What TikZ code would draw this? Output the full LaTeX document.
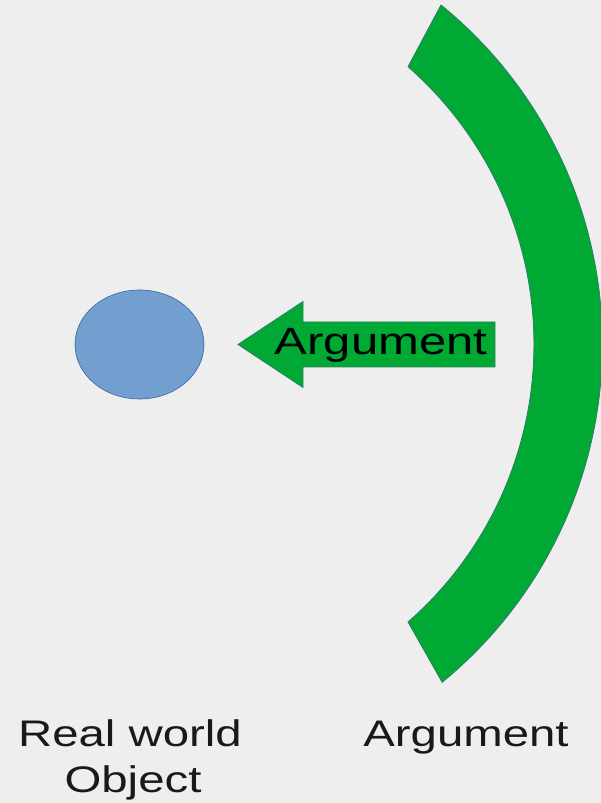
\documentclass[tikz,border=0pt]{standalone}
\usepackage{fontspec}
\setmainfont{Liberation Sans}
\usetikzlibrary{shapes.geometric}
\definecolor{bg}{HTML}{EEEEEE}
\definecolor{lblue}{HTML}{729FCF}
\definecolor{dblue}{HTML}{3465A4}
\definecolor{lgreen}{HTML}{00A933}
\definecolor{outl}{HTML}{2E7D6A}
\tikzset{
  shapeline/.style={draw=outl, line width=0.8pt, line join=miter},
  greenshape/.style={shapeline, fill=lgreen},
  lbl/.style={font=\fontsize{37}{46}\selectfont, text=black!90, inner sep=0pt, align=center, anchor=base},
}
\begin{document}
\begin{tikzpicture}[x=1pt,y=1pt]
\fill[bg] (0,0) rectangle (601,803);
\useasboundingbox (0,0) rectangle (601,803);
% green arc band
\path[greenshape] (441,798) arc[start angle=50.9, end angle=-50.7, radius=437]
  -- (408,181) arc[start angle=-48.8, end angle=48.8, radius=369] -- cycle;
% real-world object
\node[ellipse, draw=dblue, line width=0.6pt, fill=lblue, minimum width=129pt, minimum height=109pt, inner sep=0pt] (obj) at (139.5,458.5) {};
% arrow shape
\path[greenshape] (238,458.5) -- (303,501.5) -- (303,481) -- (495,481) -- (495,436) -- (303,436) -- (303,415.5) -- cycle;
\node[inner sep=0pt, anchor=base, font=\fontsize{38}{42}\selectfont] (arrtext) at (381,448) {\scalebox{1.29}[1]{Argument}};
% labels
\node[lbl] (rw1) at (130,56) {\scalebox{1.28}[1]{Real world}};
\node[lbl] (rw2) at (133,10) {\scalebox{1.28}[1]{Object}};
\node[lbl] (argl) at (466,56) {\scalebox{1.28}[1]{Argument}};
\end{tikzpicture}
\end{document}
